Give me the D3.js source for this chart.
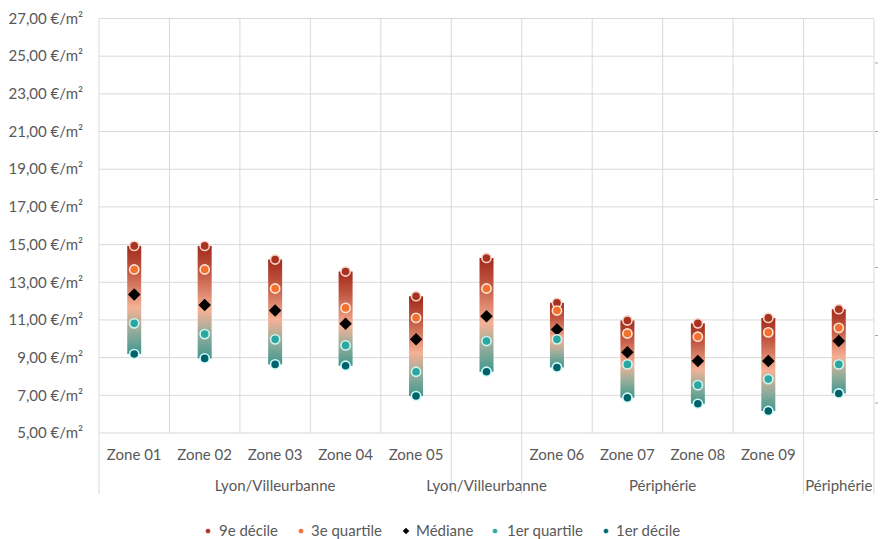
<!DOCTYPE html>
<html><head><meta charset="utf-8">
<script src="https://cdn.jsdelivr.net/npm/d3@7/dist/d3.min.js"></script>
<style>
body{margin:0;background:#fff;}
text{font-family:Lato,"Open Sans",sans-serif;fill:#595959;}
</style></head>
<body><svg id="c" width="886" height="539"></svg>
<script>
const categories = ["Zone 01","Zone 02","Zone 03","Zone 04","Zone 05","","Zone 06","Zone 07","Zone 08","Zone 09",""];
const groups = [
  {label:"Lyon/Villeurbanne", from:0, to:4},
  {label:"Lyon/Villeurbanne", from:5, to:5},
  {label:"Périphérie", from:6, to:9},
  {label:"Périphérie", from:10, to:10}
];
const decile9   = [14.93,14.93,14.21,13.57,12.26,14.29,11.91,10.97,10.82,11.11,11.57];
const quartile3 = [13.68,13.68,12.67,11.64,11.11,12.67,11.50,10.28,10.11,10.34,10.58];
const mediane   = [12.35,11.79,11.50,10.80, 9.97,11.20,10.50, 9.28, 8.82, 8.82, 9.88];
const quartile1 = [10.82,10.25, 9.97, 9.65, 8.25, 9.88, 9.97, 8.64, 7.54, 7.86, 8.64];
const decile1   = [ 9.19, 8.96, 8.64, 8.57, 6.96, 8.25, 8.48, 6.87, 6.55, 6.17, 7.10];
const yTicks = [5,7,9,11,13,15,17,19,21,23,25,27];
const seriesNames = ["9e décile","3e quartile","Médiane","1er quartile","1er décile"];

const svg = d3.select("#c");
const L=99, R=874, T=18.5, B=433;
const x = d3.scaleBand().domain(d3.range(categories.length)).range([L,R]).padding(0);
const y = d3.scaleLinear().domain([5,27]).range([B,T]);
const fmt = v => d3.format(".2f")(v).replace(".",",") + " €/m²";

// gradient
const defs = svg.append("defs");
const g = defs.append("linearGradient").attr("id","bg").attr("x1",0).attr("y1",0).attr("x2",0).attr("y2",1);
g.append("stop").attr("offset","0%").attr("stop-color","#a32a1b");
g.append("stop").attr("offset","25%").attr("stop-color","#c35a44");
g.append("stop").attr("offset","57%").attr("stop-color","#f5b195");
g.append("stop").attr("offset","78%").attr("stop-color","#98ad9c");
g.append("stop").attr("offset","100%").attr("stop-color","#3f988d");

const grid = "#d9d9d9";
svg.append("g").selectAll("line").data(yTicks).join("line")
  .attr("x1",L).attr("x2",R).attr("y1",d=>y(d)).attr("y2",d=>y(d))
  .attr("stroke",grid).attr("stroke-width",1);
const bounds = d3.range(categories.length+1).map(i => i<categories.length ? x(i) : R);
svg.append("g").selectAll("line").data(bounds).join("line")
  .attr("x1",d=>d).attr("x2",d=>d).attr("y1",T).attr("y2",B)
  .attr("stroke",grid).attr("stroke-width",1);
const divs = [L, ...groups.map(gr => x(gr.to)+x.bandwidth())];
svg.append("g").selectAll("line").data(divs).join("line")
  .attr("x1",d=>d).attr("x2",d=>d).attr("y1",B).attr("y2",494)
  .attr("stroke",grid).attr("stroke-width",1);

svg.append("g").selectAll("line").data([63,131.5,199.5,267.5,335.5,403]).join("line")
  .attr("x1",R+1).attr("x2",R+4).attr("y1",d=>d).attr("y2",d=>d)
  .attr("stroke","#a6a6a6").attr("stroke-width",1);

svg.append("g").selectAll("text").data(yTicks).join("text")
  .attr("x",83).attr("y",d=>y(d)).attr("dy","0.35em").attr("text-anchor","end")
  .attr("font-size",15).text(fmt);

svg.append("g").selectAll("text").data(categories).join("text")
  .attr("x",(d,i)=>x(i)+x.bandwidth()/2).attr("y",460).attr("text-anchor","middle")
  .attr("font-size",15).text(d=>d);
svg.append("g").selectAll("text").data(groups).join("text")
  .attr("x",d=>(x(d.from)+x(d.to)+x.bandwidth())/2).attr("y",491).attr("text-anchor","middle")
  .attr("font-size",15).text(d=>d.label);

const bw = 14;
svg.append("g").selectAll("rect").data(categories).join("rect")
  .attr("x",(d,i)=>x(i)+x.bandwidth()/2-bw/2).attr("width",bw)
  .attr("y",(d,i)=>y(decile9[i])).attr("height",(d,i)=>y(decile1[i])-y(decile9[i]))
  .attr("fill","url(#bg)");

const cx = i => x(i)+x.bandwidth()/2;
function dots(vals, fill, stroke){
  svg.append("g").selectAll("circle").data(vals).join("circle")
    .attr("cx",(d,i)=>cx(i)).attr("cy",d=>y(d)).attr("r",4.6)
    .attr("fill",fill).attr("stroke",stroke).attr("stroke-width",1.6);
}
dots(decile9,"#a8321f","#f6d2c8");
dots(quartile3,"#f3712e","#fde3d3");
svg.append("g").selectAll("path").data(mediane).join("path")
  .attr("d",d3.symbol(d3.symbolSquare,78))
  .attr("transform",(d,i)=>`translate(${cx(i)},${y(d)}) rotate(45)`)
  .attr("fill","#000");
dots(quartile1,"#2aa7a0","#d2f3ef");
dots(decile1,"#00636b","#d5fafa");

const leg = [
  {n:seriesNames[0], c:"#a8321f", s:"circle", mx:208, tx:219},
  {n:seriesNames[1], c:"#f3712e", s:"circle", mx:301, tx:311},
  {n:seriesNames[2], c:"#000", s:"diamond", mx:406, tx:416},
  {n:seriesNames[3], c:"#2aa7a0", s:"circle", mx:495, tx:507},
  {n:seriesNames[4], c:"#00636b", s:"circle", mx:606, tx:616}
];
const lg = svg.append("g");
leg.forEach(d=>{
  if(d.s==="circle") lg.append("circle").attr("cx",d.mx).attr("cy",531).attr("r",2.6).attr("fill",d.c).attr("stroke","#fff").attr("stroke-width",0.6);
  else lg.append("path").attr("d",d3.symbol(d3.symbolSquare,22)).attr("transform",`translate(${d.mx},531) rotate(45)`).attr("fill",d.c);
  lg.append("text").attr("x",d.tx).attr("y",531).attr("dy","0.35em").attr("font-size",15).text(d.n);
});
</script></body></html>
